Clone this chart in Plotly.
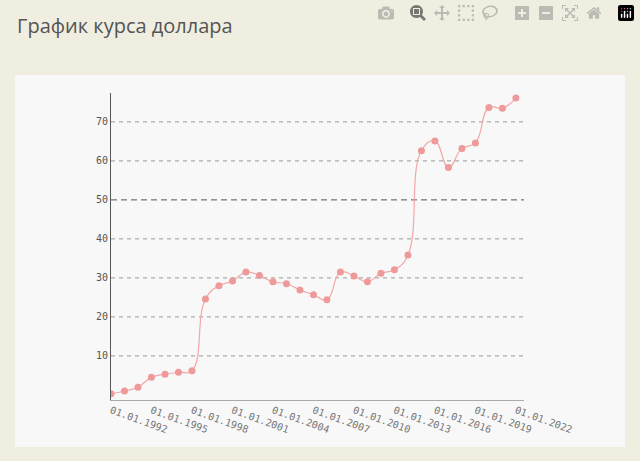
import plotly.graph_objects as go

years = list(range(1992, 2023))
rates = [0.3, 1.0, 2.0, 4.5, 5.3, 5.8, 6.2, 24.6, 28.0, 29.2, 31.5, 30.6, 29.0, 28.5,
         26.9, 25.7, 24.4, 31.5, 30.5, 29.0, 31.2, 32.1, 35.9, 62.6, 65.1, 58.3, 63.2,
         64.6, 73.7, 73.5, 76.1]
tick_years = list(range(1992, 2023, 3))
tick_labels = ["01.01.%d" % y for y in tick_years]
y_ticks = [10, 20, 30, 40, 50, 60, 70]

fig = go.Figure()
fig.add_trace(go.Scatter(x=years, y=rates, mode="lines+markers",
                         line=dict(shape="spline", smoothing=1.3, color="#f4a7a7", width=1.2),
                         marker=dict(size=7, color="#ef9a9a")))

shapes = [dict(type="rect", xref="paper", yref="paper", x0=-0.2324, x1=1.2446,
               y0=-0.1531, y1=1.0586, fillcolor="#f8f8f8", line=dict(width=0), layer="below")]
for v in y_ticks:
    shapes.append(dict(type="line", xref="paper", yref="y", x0=0, x1=1, y0=v, y1=v,
                       line=dict(color="#555" if v == 50 else "#999", width=1,
                                 dash="6px,4px" if v == 50 else "4px,4px"), layer="below"))

fig.update_layout(
    width=640, height=461, paper_bgcolor="#f0ede1", plot_bgcolor="#ffffff",
    margin=dict(l=111, r=116, t=93, b=61), showlegend=False, shapes=shapes,
    annotations=[dict(text="График курса доллара", xref="paper", yref="paper",
                      x=-0.2324, y=1.22, xanchor="left", yanchor="middle", showarrow=False,
                      font=dict(family="Open Sans", size=20, color="#555"))],
    xaxis=dict(range=[1992, 2022.6], tickvals=tick_years, ticktext=tick_labels, tickangle=20,
               showgrid=False, zeroline=False, showline=True, linecolor="#aaa", linewidth=1,
               ticks="", tickfont=dict(family="DejaVu Sans Mono", size=10, color="#777")),
    yaxis=dict(range=[-1.3, 77.4], tickvals=y_ticks, showgrid=False, zeroline=False,
               showline=True, linecolor="#555", linewidth=1, ticks="", ticklen=0,
               tickfont=dict(family="DejaVu Sans Mono", size=10, color="#555")),
)
fig.write_html("out.html", post_script="document.body.style.margin='0';document.body.style.background='#f0ede1';")
